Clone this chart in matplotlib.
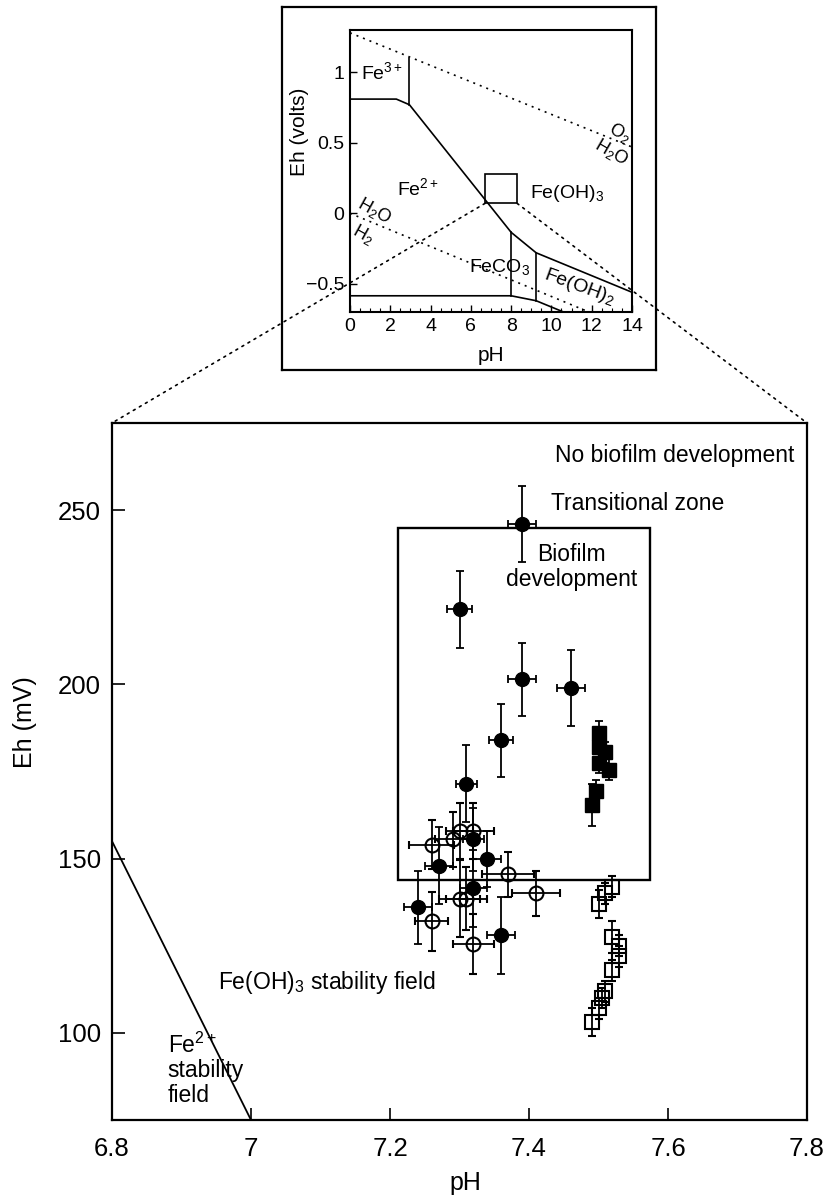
import matplotlib
matplotlib.use("Agg")
import matplotlib.pyplot as plt
from matplotlib.patches import Rectangle, ConnectionPatch
import numpy as np

plt.rcParams['font.family'] = ['Liberation Sans', 'DejaVu Sans']
plt.rcParams['mathtext.fontset'] = 'custom'
plt.rcParams['mathtext.rm'] = 'Liberation Sans'
plt.rcParams['mathtext.it'] = 'Liberation Sans:italic'
plt.rcParams['mathtext.bf'] = 'Liberation Sans:bold'

# ---------------- data: main chart ----------------
# filled circles (biofilm samples)
fc_ph = [7.39, 7.30, 7.39, 7.46, 7.36, 7.31, 7.32, 7.27, 7.34, 7.32, 7.24, 7.36]
fc_eh = [246, 221.5, 201.5, 199, 184, 171.5, 155.5, 148, 150, 141.5, 136, 128]
fc_xerr = [0.02, 0.018, 0.02, 0.02, 0.017, 0.015, 0.015, 0.02, 0.02, 0.02, 0.02, 0.02]
fc_yerr = [11, 11, 10.5, 11, 10.5, 11, 9, 11, 8, 11, 10.5, 11]

# open circles
oc_ph = [7.26, 7.29, 7.30, 7.32, 7.37, 7.41, 7.30, 7.31, 7.26, 7.32]
oc_eh = [154, 155.5, 158, 158, 145.5, 140, 138.5, 138.5, 132, 125.5]
oc_xerr = [0.032, 0.025, 0.02, 0.03, 0.037, 0.035, 0.03, 0.03, 0.024, 0.03]
oc_yerr = [7, 8, 8, 8, 6.5, 6.5, 11, 9, 8.5, 8.5]

# filled squares
fs_ph = [7.50, 7.50, 7.51, 7.50, 7.515, 7.497, 7.49]
fs_eh = [186, 182, 180.5, 177.5, 175.5, 169.5, 165.5]
fs_yerr = [3.5, 3, 3, 3, 3, 3, 6]

# open squares
os_ph = [7.49, 7.50, 7.505, 7.51, 7.52, 7.53, 7.53, 7.52, 7.50, 7.51, 7.52]
os_eh = [103, 107, 110, 112, 118, 122, 125, 127.5, 137, 140, 142]
os_yerr = [4, 3, 3, 3, 3, 3, 3, 4.5, 4, 3, 3]

# Fe2+/Fe(OH)3 boundary in main chart
fe_line_ph = [6.8, 7.0]
fe_line_eh = [155, 75]

# biofilm box: pH range, Eh range
box_ph = [7.211, 7.574]
box_eh = [144, 245]

main_xticks = [6.8, 7.0, 7.2, 7.4, 7.6, 7.8]
main_xticklabels = ['6.8', '7', '7.2', '7.4', '7.6', '7.8']
main_yticks = [100, 150, 200, 250]

# ---------------- data: inset Pourbaix diagram ----------------
b_upper_ph = [0, 2.3, 2.95, 8.0, 9.24, 14]
b_upper_eh = [0.81, 0.81, 0.77, -0.135, -0.28, -0.56]
b_fe3_ph = [2.95, 2.95]
b_fe3_eh = [0.77, 1.10]
b_lower_ph = [0, 8.0, 9.24, 10.6]
b_lower_eh = [-0.585, -0.585, -0.62, -0.70]
b_v8_ph = [8.0, 8.0]
b_v8_eh = [-0.135, -0.585]
b_v9_ph = [9.24, 9.24]
b_v9_eh = [-0.28, -0.62]
o2_ph = [0, 14]
o2_eh = [1.28, 0.47]
h2_ph = [0, 14]
h2_eh = [0.0, -0.826]
zoom_ph = [6.7, 8.3]
zoom_eh = [0.07, 0.28]

W, H = 829, 1198
fig = plt.figure(figsize=(W / 100, H / 100), dpi=100)

def fr(x0, y0, x1, y1):
    return [x0 / W, 1 - y1 / H, (x1 - x0) / W, (y1 - y0) / H]

# ---------------- main axes ----------------
ax = fig.add_axes(fr(112, 423, 807, 1120))
ax.set_xlim(6.8, 7.8)
ax.set_ylim(75, 275)

ax.plot(fe_line_ph, fe_line_eh, color='black', lw=1.3)
ax.add_patch(Rectangle((box_ph[0], box_eh[0]), box_ph[1] - box_ph[0], box_eh[1] - box_eh[0],
                       fill=False, ec='black', lw=1.7, zorder=2))

ekw = dict(ecolor='black', elinewidth=1.3, capsize=3, capthick=1.3, linestyle='none', zorder=3)
ax.errorbar(os_ph, os_eh, yerr=os_yerr, fmt='s', ms=9.5, mfc='none', mec='black', mew=1.5, **ekw)
ax.errorbar(oc_ph, oc_eh, xerr=oc_xerr, yerr=oc_yerr, fmt='o', ms=10, mfc='none', mec='black', mew=1.5, **ekw)
ax.errorbar(fc_ph, fc_eh, xerr=fc_xerr, yerr=fc_yerr, fmt='o', ms=10, mfc='black', mec='black', **ekw)
ax.errorbar(fs_ph, fs_eh, yerr=fs_yerr, fmt='s', ms=9.5, mfc='black', mec='black', **ekw)

ax.set_xticks(main_xticks)
ax.set_xticklabels(main_xticklabels)
ax.set_yticks(main_yticks)
ax.tick_params(direction='in', length=9, width=1.2, labelsize=18.5)
ax.tick_params(axis='x', pad=12)
ax.tick_params(axis='y', pad=8)
for s in ax.spines.values():
    s.set_linewidth(1.6)
ax.set_xlabel('pH', fontsize=18)
ax.set_ylabel('Eh (mV)', fontsize=18)
ax.xaxis.set_label_coords(0.509, -0.073)
ax.yaxis.set_label_coords(-0.108, 0.571)

ax.text(7.438, 265.6, 'No biofilm development', fontsize=16.5, ha='left', va='center')
ax.text(7.431, 251.8, 'Transitional zone', fontsize=16.5, ha='left', va='center')
ax.text(7.461, 233.6, 'Biofilm\ndevelopment', fontsize=16.5, ha='center', va='center',
        multialignment='center', linespacing=1.1)
ax.text(6.952, 114.4, r'Fe(OH)$_3$ stability field', fontsize=16.5, ha='left', va='center')
ax.text(6.880, 89.4, 'Fe$^{2+}$\nstability\nfield', fontsize=16.5, ha='left', va='center',
        linespacing=1.1)

# ---------------- inset outer frame ----------------
frame = fig.add_axes(fr(282, 7, 656, 370))
frame.set_xticks([])
frame.set_yticks([])
for s in frame.spines.values():
    s.set_linewidth(1.6)

# ---------------- inset axes ----------------
axin = fig.add_axes(fr(350, 30, 632, 312))
axin.set_xlim(0, 14)
axin.set_ylim(-0.7, 1.3)
lkw = dict(color='black', lw=1.2)
axin.plot(b_upper_ph, b_upper_eh, **lkw)
axin.plot(b_fe3_ph, b_fe3_eh, **lkw)
axin.plot(b_lower_ph, b_lower_eh, **lkw)
axin.plot(b_v8_ph, b_v8_eh, **lkw)
axin.plot(b_v9_ph, b_v9_eh, **lkw)
dkw = dict(color='black', lw=1.2, linestyle=(0, (1.2, 3)))
axin.plot(o2_ph, o2_eh, **dkw)
axin.plot(h2_ph, h2_eh, **dkw)
axin.add_patch(Rectangle((zoom_ph[0], zoom_eh[0]), zoom_ph[1] - zoom_ph[0], zoom_eh[1] - zoom_eh[0],
                         fill=False, ec='black', lw=1.2))

axin.set_xticks(np.arange(0, 15, 2))
axin.set_xticks(np.arange(0, 14.01, 0.5), minor=True)
axin.set_yticks([-0.5, 0, 0.5, 1])
axin.set_yticklabels(['\u22120.5', '0', '0.5', '1'])
axin.tick_params(direction='in', length=5, width=1.0, labelsize=14, pad=4)
axin.tick_params(which='minor', direction='in', length=3, width=0.8)
for s in axin.spines.values():
    s.set_linewidth(1.5)
axin.set_xlabel('pH', fontsize=15)
axin.set_ylabel('Eh (volts)', fontsize=15)
axin.xaxis.set_label_coords(0.5, -0.12)
axin.yaxis.set_label_coords(-0.145, 0.64)

tfs = 14
axin.text(1.6, 1.0, r'Fe$^{3+}$', fontsize=tfs, ha='center', va='center')
axin.text(3.4, 0.18, r'Fe$^{2+}$', fontsize=tfs, ha='center', va='center')
axin.text(10.8, 0.14, r'Fe(OH)$_3$', fontsize=tfs, ha='center', va='center')
axin.text(7.42, -0.38, r'FeCO$_3$', fontsize=tfs, ha='center', va='center')
axin.text(11.4, -0.52, r'Fe(OH)$_2$', fontsize=tfs, ha='center', va='center', rotation=-20)
axin.text(13.4, 0.57, r'O$_2$', fontsize=tfs - 1, ha='center', va='center', rotation=-30)
axin.text(13.0, 0.43, r'H$_2$O', fontsize=tfs - 1, ha='center', va='center', rotation=-30)
axin.text(1.24, 0.016, r'H$_2$O', fontsize=tfs - 1, ha='center', va='center', rotation=-29)
axin.text(0.66, -0.15, r'H$_2$', fontsize=tfs - 1, ha='center', va='center', rotation=-29)

# ---------------- zoom connector lines ----------------
for xa, xb in [(zoom_ph[0], 6.8), (zoom_ph[1], 7.8)]:
    cp = ConnectionPatch(xyA=(xa, zoom_eh[0]), coordsA=axin.transData,
                         xyB=(xb, 275), coordsB=ax.transData,
                         color='black', lw=1.2, linestyle=(0, (1.2, 3)))
    fig.add_artist(cp)

fig.savefig('out.png', dpi=100)
